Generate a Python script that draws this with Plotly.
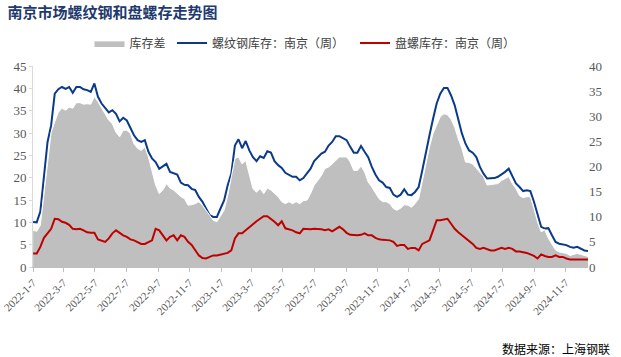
import pandas as pd
import plotly.graph_objects as go

# weekly dates (Fridays) from 2022-01-07
dates = pd.date_range("2022-01-07", periods=155, freq="7D")

# 螺纹钢库存：南京（周） — left axis
rebar = [10.1, 10.0, 12.4, 20.6, 28.0, 31.7, 38.8, 39.8, 40.3, 39.9, 40.3, 39.0, 40.3, 40.3, 39.8, 39.6, 39.2, 41.1, 38.1, 36.6, 35.5, 34.6, 35.1, 34.3, 32.6, 33.4,
         32.8, 31.0, 29.5, 28.4, 28.0, 28.4, 25.8, 24.3, 23.5, 22.0, 22.6, 23.1, 21.3, 21.0, 20.7, 18.9, 18.4, 18.3, 17.5, 17.2, 15.7, 14.6, 13.1, 11.6, 11.2, 11.2,
         13.1, 14.9, 18.3, 20.9, 27.2, 28.6, 26.6, 28.2, 26.1, 24.6, 23.7, 24.8, 24.4, 25.9, 25.6, 23.7, 22.8, 22.2, 21.1, 20.7, 20.2, 20.2, 19.4, 19.9, 20.9,
         22.0, 23.7, 24.6, 25.4, 25.8, 27.2, 28.0, 29.3, 29.3, 28.9, 28.4, 26.9, 25.6, 25.6, 27.1, 25.8, 24.6, 22.4, 20.7, 19.4, 18.9, 17.9, 17.7, 16.2, 15.7,
         16.2,
         17.4, 16.2, 16.1, 16.8, 17.9, 21.6, 25.8, 29.5, 33.2, 36.6, 38.8, 40.1, 40.1, 38.4, 36.2, 33.2, 29.9, 27.6, 26.1, 25.6, 24.6, 22.4, 20.9, 19.8,
         19.8,
         19.9, 20.2, 20.7, 21.3, 22.0, 20.5, 18.7, 17.9, 17.0, 17.2, 17.0, 14.6, 11.6, 9.0, 8.6, 8.7, 7.1, 5.6, 5.2, 5.0, 4.9, 4.5, 4.3, 4.5, 4.1, 3.7, 3.6]

# 盘螺库存：南京（周） — right axis
coil = [2.7, 2.7, 4.0, 5.8, 6.7, 7.6, 9.6, 9.5, 9.0, 8.8, 8.4, 7.6, 7.5, 7.6, 7.3, 6.9, 6.8, 6.8, 5.5, 5.2, 5.0, 5.7, 6.7, 7.3, 6.8, 6.3,
        6.0, 5.5, 5.3, 5.0, 4.6, 4.6, 4.9, 5.3, 7.6, 7.3, 6.3, 5.3, 6.0, 6.3, 5.3, 6.3, 6.0, 5.0, 4.4, 3.3, 2.3, 1.8, 1.7, 2.0, 2.3, 2.3,
        2.5, 2.7, 2.8, 3.3, 5.7, 6.7, 6.7, 7.3, 8.0, 8.5, 9.1, 9.6, 10.1, 10.1, 9.6, 9.0, 8.3, 9.1, 7.7, 7.5, 7.3, 6.9, 6.7, 7.6, 7.5,
        7.5, 7.6, 7.6, 7.5, 7.3, 7.5, 7.1, 7.6, 8.0, 7.5, 6.8, 6.4, 6.3, 6.3, 6.4, 6.7, 6.3, 6.3, 5.8, 5.5, 5.4, 5.3, 5.3, 5.0, 4.2,
        4.4,
        4.4, 3.6, 3.8, 3.8, 3.3, 4.6, 5.0, 5.3, 7.3, 9.3, 9.3, 9.5, 9.6, 8.6, 7.6, 6.9, 6.3, 5.8, 5.2, 4.6, 3.8, 3.6, 3.8, 3.6,
        3.3,
        3.3, 3.6, 3.8, 3.6, 3.8, 3.6, 3.1, 3.1, 3.0, 2.8, 2.5, 2.2, 1.7, 2.5, 2.2, 2.0, 2.0, 2.3, 2.0, 2.0, 1.7, 1.5, 1.5, 1.5, 1.5, 1.5, 1.5]

# 库存差 — right axis
diff = [7.3, 7.1, 8.3, 14.2, 20.9, 26.8, 28.9, 30.8, 31.6, 31.2, 31.8, 31.6, 32.7, 32.7, 32.4, 32.5, 32.4, 33.9, 32.9, 31.6, 30.5, 29.2, 28.5, 26.8, 25.9, 27.2,
        27.2, 26.6, 24.5, 23.6, 23.2, 23.9, 21.9, 18.9, 16.3, 14.6, 15.3, 16.6, 15.7, 15.3, 14.6, 14.0, 13.6, 12.3, 12.4, 12.6, 13.0, 12.3, 11.3, 10.3, 9.3, 9.0,
        10.3, 11.3, 14.2, 17.6, 21.6, 21.9, 20.5, 21.2, 18.6, 15.6, 14.9, 15.6, 14.6, 15.7, 15.3, 14.6, 14.0, 13.0, 12.6, 13.0, 12.6, 13.0, 12.6, 13.2, 13.3,
        14.6, 16.3, 17.2, 18.2, 19.6, 19.9, 20.5, 21.2, 21.9, 21.9, 21.9, 20.9, 19.2, 19.2, 20.1, 18.9, 16.9, 15.9, 14.6, 13.6, 13.0, 13.0, 12.6, 11.6, 11.3,
        11.7,
        12.4, 12.3, 11.9, 12.6, 13.6, 16.9, 20.9, 23.9, 26.6, 28.2, 29.9, 30.5, 30.3, 29.4, 27.8, 25.5, 23.6, 20.9, 20.8, 20.5, 19.6, 18.9, 18.0, 16.3,
        16.4,
        16.4, 16.6, 17.2, 17.6, 18.0, 16.6, 15.6, 14.2, 13.8, 14.0, 14.0, 11.6, 9.0, 7.0, 7.4, 5.7, 4.4, 3.4, 3.0, 2.8, 2.7, 2.3, 2.5, 2.7, 2.5, 2.3, 2.1]

tick_dates = ["2022-01-07", "2022-03-07", "2022-05-07", "2022-07-07", "2022-09-07", "2022-11-07",
              "2023-01-07", "2023-03-07", "2023-05-07", "2023-07-07", "2023-09-07", "2023-11-07",
              "2024-01-07", "2024-03-07", "2024-05-07", "2024-07-07", "2024-09-07", "2024-11-07"]
tick_labels = ["2022-1-7", "2022-3-7", "2022-5-7", "2022-7-7", "2022-9-7", "2022-11-7",
               "2023-1-7", "2023-3-7", "2023-5-7", "2023-7-7", "2023-9-7", "2023-11-7",
               "2024-1-7", "2024-3-7", "2024-5-7", "2024-7-7", "2024-9-7", "2024-11-7"]

CJK = "Noto Sans CJK SC"
SERIF = "Liberation Serif"

fig = go.Figure()
fig.add_trace(go.Scatter(x=dates, y=diff, name="库存差", mode="lines", fill="tozeroy",
                         fillcolor="#BFBFBF", line=dict(color="white", width=1),
                         yaxis="y2", legend="legend"))
fig.add_trace(go.Scatter(x=dates, y=rebar, name="螺纹钢库存：南京（周）", mode="lines",
                         line=dict(color="#0B3A8A", width=2), yaxis="y", legend="legend2"))
fig.add_trace(go.Scatter(x=dates, y=coil, name="盘螺库存：南京（周）", mode="lines",
                         line=dict(color="#C00000", width=2), yaxis="y2", legend="legend3"))

leg_common = dict(orientation="h", xanchor="left", y=1.115, yanchor="middle",
                  font=dict(family=CJK, size=12, color="#404040"),
                  itemwidth=30, bgcolor="rgba(0,0,0,0)")

fig.update_layout(
    width=621, height=357,
    margin=dict(l=33, r=33, t=66, b=90),
    paper_bgcolor="white", plot_bgcolor="white",
    title=dict(text="<b>南京市场螺纹钢和盘螺存走势图</b>", x=0.012, xanchor="left",
               yref="container", y=0.965, yanchor="middle",
               font=dict(family=CJK, size=15, color="#1F3A6E")),
    showlegend=True,
    legend=dict(x=0.1018, **leg_common),
    legend2=dict(x=0.2505, **leg_common),
    legend3=dict(x=0.5802, **leg_common),
    xaxis=dict(type="date", range=["2022-01-06 18:00", "2024-12-20"], automargin=False,
               tickvals=tick_dates, ticktext=tick_labels, tickangle=-45,
               ticklabeloverflow="allow",
               ticks="outside", ticklen=4, tickcolor="#BFBFBF",
               showline=True, linecolor="#BFBFBF", linewidth=1,
               showgrid=False, zeroline=False,
               tickfont=dict(family=SERIF, size=11, color="#595959")),
    yaxis=dict(range=[0, 45], dtick=5, showgrid=False, zeroline=False, automargin=False,
               showline=True, linecolor="#D9D9D9", linewidth=1,
               ticks="outside", ticklen=3, tickcolor="#D9D9D9",
               tickfont=dict(family=SERIF, size=13, color="#595959")),
    yaxis2=dict(range=[0, 40], dtick=5, overlaying="y", side="right", automargin=False,
                showgrid=False, zeroline=False, showline=False,
                tickfont=dict(family=SERIF, size=13, color="#595959")),
    annotations=[dict(text="数据来源：上海钢联", xref="paper", yref="paper",
                      x=1.043, y=-0.405, xanchor="right", yanchor="middle",
                      showarrow=False, font=dict(family=CJK, size=12, color="#000000"))],
)

fig.write_html("out.html", config={"displayModeBar": False},
               post_script="document.body.style.margin='0';")
